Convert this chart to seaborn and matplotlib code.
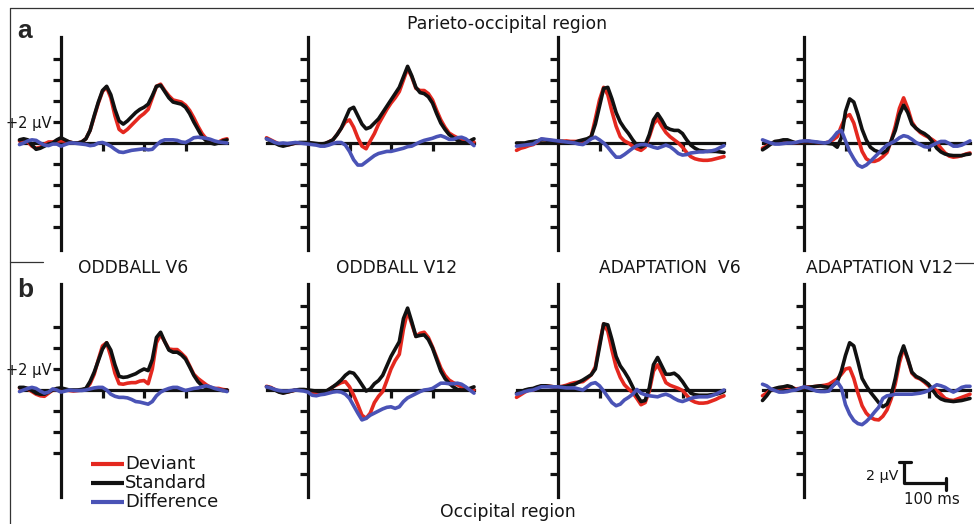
import matplotlib
matplotlib.use("Agg")
import matplotlib.pyplot as plt
from matplotlib.lines import Line2D
import numpy as np
import pandas as pd
import seaborn as sns

# ---------------- data (µV, every 10 ms from -100 to 400 ms) ----------------
TIME = list(range(-100, 401, 10))
CONDITIONS = ["Deviant", "Standard", "Difference"]
TITLES = ["ODDBALL V6", "ODDBALL V12", "ADAPTATION  V6", "ADAPTATION V12"]
ROW_TITLES = ["Parieto-occipital region", "Occipital region"]
ROW_LETTERS = ["a", "b"]

A1_DEV = [0.2, 0.2, 0.1, -0.3, -0.5, -0.4, -0.1, 0.1, 0.1, 0.2,
          0.2, 0.2, 0.1, 0.0, 0.0, 0.1, 0.4, 1.2, 2.5, 3.8,
          4.9, 5.3, 4.3, 2.6, 1.3, 1.0, 1.3, 1.7, 2.1, 2.5,
          2.8, 3.2, 4.3, 5.4, 5.6, 5.0, 4.5, 4.1, 4.0, 3.9,
          3.6, 3.1, 2.4, 1.6, 0.9, 0.4, 0.1, 0.0, 0.1, 0.3,
          0.4]
A1_STD = [0.3, 0.4, 0.3, -0.2, -0.6, -0.5, -0.3, -0.1, 0.0, 0.3,
          0.5, 0.3, 0.1, 0.0, 0.0, 0.1, 0.4, 1.2, 2.6, 3.9,
          5.0, 5.4, 4.6, 3.2, 2.1, 1.8, 2.1, 2.5, 2.9, 3.2,
          3.4, 3.7, 4.5, 5.4, 5.5, 4.9, 4.3, 3.9, 3.8, 3.7,
          3.4, 2.8, 2.0, 1.3, 0.6, 0.2, 0.0, -0.1, 0.0, 0.2,
          0.3]
A1_DIF = [-0.15, 0.0, 0.2, 0.3, 0.25, 0.0, -0.2, -0.25, -0.1, -0.1,
          -0.3, -0.15, 0.0, 0.0, -0.05, -0.1, -0.15, -0.25, -0.2, 0.0,
          0.05, -0.1, -0.3, -0.6, -0.85, -0.9, -0.8, -0.7, -0.65, -0.6,
          -0.55, -0.65, -0.6, -0.2, 0.15, 0.3, 0.3, 0.3, 0.25, 0.1,
          0.05, 0.25, 0.5, 0.55, 0.5, 0.45, 0.35, 0.2, 0.1, 0.05,
          0.0]

A2_DEV = [0.5, 0.3, 0.1, -0.1, -0.2, -0.2, -0.1, 0.0, 0.0, 0.0,
          0.0, -0.05, -0.1, -0.15, -0.1, 0.1, 0.3, 0.8, 1.4, 2.0,
          2.2, 1.5, 0.5, -0.3, -0.55, 0.2, 0.9, 1.8, 2.5, 3.2,
          3.8, 4.3, 4.9, 6.0, 7.1, 6.3, 5.2, 5.0, 5.0, 4.7,
          4.1, 3.1, 2.2, 1.5, 0.95, 0.7, 0.5, 0.3, 0.15, 0.1,
          0.1]
A2_STD = [0.4, 0.2, 0.0, -0.2, -0.3, -0.2, -0.1, 0.0, 0.05, 0.05,
          0.05, 0.0, -0.05, -0.1, -0.05, 0.1, 0.3, 0.8, 1.4, 2.3,
          3.2, 3.4, 2.6, 1.8, 1.35, 1.5, 1.9, 2.3, 2.9, 3.5,
          4.1, 4.7, 5.3, 6.3, 7.3, 6.4, 5.3, 4.8, 4.7, 4.4,
          3.8, 2.8, 1.9, 1.3, 0.8, 0.5, 0.25, 0.05, 0.0, 0.2,
          0.4]
A2_DIF = [0.4, 0.25, 0.05, -0.05, 0.0, -0.05, 0.0, 0.05, 0.0, -0.05,
          -0.1, -0.15, -0.2, -0.3, -0.3, -0.2, -0.05, 0.05, 0.05, -0.2,
          -0.8, -1.6, -2.1, -2.1, -1.8, -1.5, -1.2, -1.0, -0.9, -0.8,
          -0.8, -0.7, -0.6, -0.5, -0.35, -0.3, -0.1, 0.1, 0.25, 0.35,
          0.45, 0.6, 0.7, 0.55, 0.35, 0.35, 0.5, 0.55, 0.4, 0.1,
          -0.25]

A3_DEV = [-0.7, -0.5, -0.4, -0.25, -0.15, 0.1, 0.35, 0.3, 0.25, 0.2,
          0.15, 0.15, 0.2, 0.15, 0.15, 0.15, 0.2, 0.3, 0.6, 2.3,
          4.1, 5.3, 4.6, 3.0, 1.6, 0.6, 0.2, 0.0, -0.3, -0.55,
          -0.7, -0.4, 0.6, 1.8, 2.3, 1.6, 1.0, 0.6, 0.3, 0.0,
          -0.4, -0.9, -1.3, -1.5, -1.6, -1.65, -1.65, -1.6, -1.5, -1.4,
          -1.3]
A3_STD = [0.0, 0.0, 0.0, 0.1, 0.15, 0.2, 0.3, 0.3, 0.2, 0.1,
          0.15, 0.15, 0.1, 0.05, 0.05, 0.2, 0.3, 0.4, 0.6, 1.8,
          3.5, 5.2, 5.3, 4.2, 2.9, 2.0, 1.4, 0.9, 0.3, -0.2,
          -0.4, -0.2, 0.8, 2.2, 2.8, 2.2, 1.5, 1.3, 1.2, 1.2,
          0.9, 0.3, -0.2, -0.5, -0.7, -0.75, -0.8, -0.8, -0.8, -0.85,
          -0.9]
A3_DIF = [-0.3, -0.25, -0.2, -0.15, -0.1, 0.15, 0.4, 0.35, 0.3, 0.25,
          0.2, 0.15, 0.1, 0.05, 0.0, -0.1, -0.15, 0.1, 0.4, 0.55,
          0.3, 0.0, -0.4, -0.9, -1.35, -1.35, -1.1, -0.8, -0.5, -0.25,
          -0.15, -0.15, -0.25, -0.4, -0.5, -0.35, -0.2, -0.35, -0.65, -1.0,
          -1.15, -1.1, -0.95, -0.9, -0.85, -0.85, -0.8, -0.75, -0.65, -0.45,
          -0.25]

A4_DEV = [-0.5, -0.3, -0.05, 0.1, 0.15, 0.2, 0.2, 0.1, 0.0, 0.05,
          0.15, 0.15, 0.1, 0.05, 0.0, 0.0, 0.1, 0.3, 0.6, 1.6,
          2.5, 2.7, 1.9, 0.5, -0.8, -1.5, -1.75, -1.75, -1.6, -1.3,
          -0.9, 0.2, 1.6, 3.3, 4.3, 3.3, 2.0, 1.4, 1.0, 0.75,
          0.55, 0.3, 0.0, -0.5, -0.95, -1.25, -1.35, -1.3, -1.2, -1.05,
          -0.95]
A4_STD = [-0.65, -0.4, -0.1, 0.15, 0.2, 0.3, 0.3, 0.15, 0.0, 0.05,
          0.15, 0.15, 0.1, 0.05, 0.0, 0.0, -0.05, -0.1, -0.4, 0.5,
          3.0, 4.2, 3.9, 2.7, 1.3, 0.3, -0.4, -0.7, -0.85, -0.95,
          -0.7, 0.2, 1.2, 2.7, 3.6, 2.9, 1.8, 1.4, 1.1, 0.9,
          0.6, 0.1, -0.5, -0.85, -1.05, -1.15, -1.2, -1.2, -1.2, -1.1,
          -1.05]
A4_DIF = [0.3, 0.15, 0.0, -0.1, -0.1, -0.05, 0.0, 0.0, 0.05, 0.15,
          0.2, 0.2, 0.15, 0.1, 0.05, 0.0, 0.1, 0.5, 1.0, 1.2,
          0.2, -0.8, -1.5, -2.1, -2.3, -2.1, -1.75, -1.35, -0.95, -0.55,
          -0.2, 0.0, 0.2, 0.5, 0.7, 0.6, 0.35, 0.05, -0.15, -0.35,
          -0.4, -0.2, 0.0, 0.15, 0.15, -0.05, -0.3, -0.3, -0.2, 0.0,
          0.2]

B1_DEV = [0.2, 0.2, 0.1, -0.15, -0.4, -0.55, -0.6, -0.3, 0.0, 0.1,
          0.1, 0.0, -0.05, -0.1, -0.05, 0.0, 0.1, 0.6, 1.5, 2.9,
          4.2, 4.5, 3.2, 1.6, 0.6, 0.55, 0.65, 0.7, 0.7, 0.85,
          0.9, 0.6, 2.0, 4.5, 5.3, 4.6, 3.9, 3.85, 3.85, 3.5,
          3.1, 2.3, 1.5, 1.1, 0.8, 0.5, 0.25, 0.15, 0.15, 0.05,
          0.0]
B1_STD = [0.25, 0.25, 0.15, -0.05, -0.3, -0.4, -0.4, -0.2, 0.0, 0.15,
          0.2, 0.1, 0.0, 0.0, 0.0, 0.05, 0.15, 0.8, 1.7, 2.8,
          3.9, 4.5, 3.8, 2.4, 1.3, 1.2, 1.25, 1.4, 1.55, 1.8,
          2.0, 1.85, 2.9, 5.0, 5.5, 4.6, 3.8, 3.6, 3.6, 3.35,
          2.95, 2.2, 1.4, 0.8, 0.4, 0.2, 0.1, 0.0, 0.0, -0.05,
          0.0]
B1_DIF = [-0.15, 0.0, 0.15, 0.25, 0.15, -0.1, -0.3, -0.2, 0.1, 0.0,
          -0.2, -0.1, 0.0, -0.05, -0.05, -0.05, 0.0, 0.1, 0.2, 0.25,
          0.25, 0.0, -0.4, -0.6, -0.7, -0.7, -0.75, -0.9, -1.1, -1.15,
          -1.25, -1.35, -1.1, -0.55, -0.2, 0.0, 0.15, 0.25, 0.25, 0.1,
          -0.05, 0.05, 0.15, 0.2, 0.3, 0.4, 0.3, 0.15, 0.05, -0.05,
          -0.15]

B2_DEV = [0.35, 0.25, 0.05, -0.15, -0.25, -0.2, -0.1, 0.0, 0.0, 0.0,
          -0.05, -0.2, -0.35, -0.4, -0.3, 0.0, 0.3, 0.5, 0.7, 0.8,
          0.3, -0.5, -1.4, -2.4, -2.7, -2.2, -1.2, -0.6, -0.15, 0.9,
          2.0, 2.8, 3.4, 5.8, 7.5, 6.3, 5.1, 5.4, 5.5, 5.0,
          4.1, 3.1, 2.1, 1.4, 0.95, 0.7, 0.5, 0.3, 0.15, 0.05,
          0.0]
B2_STD = [0.3, 0.2, 0.0, -0.2, -0.3, -0.2, -0.1, 0.0, 0.05, 0.05,
          0.0, -0.05, -0.1, -0.15, -0.2, 0.05, 0.3, 0.6, 0.95, 1.4,
          1.7, 1.6, 1.1, 0.5, -0.1, 0.1, 0.6, 0.9, 1.4, 2.3,
          3.2, 3.9, 4.6, 6.8, 7.8, 6.5, 5.1, 5.2, 5.25, 4.8,
          4.0, 2.9, 1.8, 1.1, 0.65, 0.3, 0.05, 0.0, 0.0, 0.15,
          0.3]
B2_DIF = [0.3, 0.2, 0.05, -0.05, -0.1, -0.1, -0.05, 0.0, -0.05, -0.1,
          -0.2, -0.5, -0.55, -0.45, -0.4, -0.3, -0.2, -0.15, -0.2, -0.4,
          -0.8, -1.5, -2.2, -2.85, -2.7, -2.4, -2.2, -2.0, -1.8, -1.65,
          -1.6, -1.75, -1.6, -1.1, -0.75, -0.55, -0.35, -0.15, 0.0, 0.05,
          0.15, 0.4, 0.65, 0.65, 0.6, 0.6, 0.65, 0.55, 0.3, 0.0,
          -0.3]

B3_DEV = [-0.7, -0.45, -0.2, 0.0, 0.0, 0.2, 0.4, 0.4, 0.35, 0.3,
          0.3, 0.35, 0.45, 0.6, 0.7, 0.75, 0.8, 1.1, 1.45, 2.2,
          4.4, 6.3, 5.6, 3.8, 2.2, 1.2, 0.5, 0.1, -0.25, -0.8,
          -1.4, -1.2, -0.1, 1.8, 2.4, 1.6, 0.7, 0.45, 0.3, 0.15,
          -0.05, -0.5, -0.95, -1.15, -1.25, -1.25, -1.2, -1.05, -0.9, -0.7,
          -0.55]
B3_STD = [-0.3, -0.2, 0.0, 0.1, 0.15, 0.3, 0.4, 0.4, 0.35, 0.3,
          0.3, 0.3, 0.35, 0.45, 0.55, 0.75, 0.95, 1.2, 1.45, 2.0,
          4.1, 6.3, 6.2, 4.8, 3.2, 2.3, 1.75, 1.1, 0.3, -0.5,
          -1.1, -1.0, 0.2, 2.4, 3.1, 2.3, 1.5, 1.5, 1.6, 1.3,
          0.8, 0.2, -0.3, -0.45, -0.5, -0.5, -0.5, -0.45, -0.4, -0.3,
          -0.15]
B3_DIF = [-0.4, -0.3, -0.15, -0.05, 0.0, 0.15, 0.3, 0.3, 0.3, 0.3,
          0.3, 0.25, 0.2, 0.2, 0.2, 0.1, 0.0, 0.3, 0.6, 0.7,
          0.4, -0.1, -0.65, -1.2, -1.5, -1.35, -0.95, -0.7, -0.4, 0.05,
          -0.3, -0.45, -0.55, -0.6, -0.65, -0.5, -0.4, -0.55, -0.8, -1.0,
          -1.1, -0.95, -0.8, -0.7, -0.65, -0.65, -0.65, -0.55, -0.4, -0.2,
          0.0]

B4_DEV = [-0.55, -0.3, 0.0, 0.1, 0.2, 0.25, 0.3, 0.25, 0.1, 0.15,
          0.25, 0.3, 0.3, 0.35, 0.4, 0.45, 0.55, 0.8, 1.05, 1.5,
          2.0, 2.1, 1.1, -0.3, -1.5, -2.2, -2.6, -2.8, -2.85, -2.5,
          -1.9, -0.85, 0.6, 2.6, 4.0, 2.9, 1.6, 1.2, 1.05, 0.75,
          0.4, 0.15, -0.05, -0.4, -0.8, -0.95, -1.0, -0.85, -0.7, -0.55,
          -0.4]
B4_STD = [-1.0, -0.55, 0.0, 0.15, 0.25, 0.3, 0.4, 0.3, 0.0, 0.1,
          0.25, 0.25, 0.3, 0.35, 0.4, 0.3, 0.25, 0.45, 0.75, 1.8,
          3.3, 4.5, 4.2, 2.7, 1.1, 0.4, -0.2, -0.7, -1.2, -1.6,
          -1.35, -0.5, 1.1, 3.1, 4.2, 3.0, 1.7, 1.3, 1.1, 0.85,
          0.55, 0.0, -0.55, -0.85, -1.0, -1.05, -1.1, -1.05, -1.0, -0.9,
          -0.8]
B4_DIF = [0.55, 0.4, 0.1, -0.05, -0.2, -0.2, -0.15, -0.05, 0.0, 0.15,
          0.3, 0.2, 0.05, -0.1, -0.15, -0.15, -0.1, 0.4, 0.8, 0.2,
          -1.4, -2.3, -2.9, -3.2, -3.3, -3.0, -2.6, -2.1, -1.65, -0.8,
          -0.55, -0.5, -0.4, -0.4, -0.4, -0.4, -0.4, -0.35, -0.3, -0.2,
          -0.05, 0.25, 0.5, 0.4, 0.25, 0.0, -0.2, 0.0, 0.25, 0.35,
          0.35]

PANEL_DATA = [
    [(A1_DEV, A1_STD, A1_DIF), (A2_DEV, A2_STD, A2_DIF),
     (A3_DEV, A3_STD, A3_DIF), (A4_DEV, A4_STD, A4_DIF)],
    [(B1_DEV, B1_STD, B1_DIF), (B2_DEV, B2_STD, B2_DIF),
     (B3_DEV, B3_STD, B3_DIF), (B4_DEV, B4_STD, B4_DIF)],
]
X_TICKS = [[[100, 200, 300], [100, 200, 300], [100, 300], [100, 300]],
           [[100, 200, 300], [100, 200, 300], [100, 300], [100, 300]]]
Y_TICKS_FULL = [-8, -6, -4, -2, 2, 4, 6, 8]
Y_TICKS_SHORT = [-6, -4, -2, 2, 4, 6]
Y_TICKS = [[Y_TICKS_FULL] * 4,
           [Y_TICKS_SHORT, Y_TICKS_FULL, Y_TICKS_FULL, Y_TICKS_FULL]]

# ---------------- styling ----------------
sns.set_style("white")
plt.rcParams["font.family"] = ["DejaVu Sans"]

PALETTE = {"Deviant": "#e4281f", "Standard": "#111111", "Difference": "#4a53b6"}
AXC = "#111111"
TXC = "#151515"
LW = 2.6
AXLW = 2.3

W, H = 974, 524
fig = plt.figure(figsize=(W / 100, H / 100), dpi=100)
fig.patch.set_facecolor("white")

COL_PX = [61, 308, 558, 804]   # pixel x of time zero
ROW_PX = [143, 390]            # pixel y of 0 µV
PXMS = 0.415
PXUV = 10.5
XLO, XHI = -107, 407
YLO, YHI = -10.2, 10.1

axes = {}
for r in range(2):
    for c in range(4):
        left = COL_PX[c] + XLO * PXMS
        right = COL_PX[c] + XHI * PXMS
        top = ROW_PX[r] - YHI * PXUV
        bottom = ROW_PX[r] - YLO * PXUV
        ax = fig.add_axes([left / W, 1 - bottom / H, (right - left) / W, (bottom - top) / H])
        ax.patch.set_alpha(0)
        dev, std, dif = PANEL_DATA[r][c]
        assert len(dev) == len(std) == len(dif) == len(TIME)
        df = pd.DataFrame({
            "time": TIME * 3,
            "uV": list(dev) + list(std) + list(dif),
            "cond": ["Deviant"] * len(TIME) + ["Standard"] * len(TIME) + ["Difference"] * len(TIME),
        })
        sns.lineplot(data=df, x="time", y="uV", hue="cond", hue_order=CONDITIONS,
                     palette=PALETTE, estimator=None, legend=False, linewidth=LW, ax=ax)
        for ln in ax.lines:
            ln.set_solid_joinstyle("round")
            ln.set_solid_capstyle("round")
            ln.set_zorder(3)
            ln.set_clip_on(False)
        ax.set_xlim(XLO, XHI)
        ax.set_ylim(YLO, YHI)
        ax.set_xlabel("")
        ax.set_ylabel("")
        for s in ["top", "right"]:
            ax.spines[s].set_visible(False)
        ax.spines["left"].set_position(("data", 0))
        ax.spines["bottom"].set_position(("data", 0))
        ax.spines["bottom"].set_bounds(-100, 400)
        for s in ["left", "bottom"]:
            ax.spines[s].set_linewidth(AXLW)
            ax.spines[s].set_color(AXC)
            ax.spines[s].set_zorder(2)
        ax.set_xticks(X_TICKS[r][c])
        ax.set_xticklabels([])
        yt = Y_TICKS[r][c]
        ax.set_yticks(yt)
        if c == 0:
            ax.set_yticklabels(["+2 µV" if v == 2 else "" for v in yt])
        else:
            ax.set_yticklabels([])
        ax.tick_params(axis="both", which="major", direction="out", length=6, width=AXLW,
                       color=AXC, left=True, bottom=True, labelsize=10.5, pad=0.5,
                       labelcolor=TXC)
        axes[(r, c)] = ax

# ---------------- scale bar (drawn in data units of last panel) ----------------
axs = axes[(1, 3)]
SB_T0, SB_V0 = 242, -8.86
axs.plot([SB_T0, SB_T0], [SB_V0, SB_V0 + 2], color=AXC, lw=AXLW, clip_on=False, solid_capstyle="butt")
axs.plot([SB_T0 - 14, SB_T0 + 16], [SB_V0 + 2, SB_V0 + 2], color=AXC, lw=AXLW, clip_on=False)
axs.plot([SB_T0, SB_T0 + 100], [SB_V0, SB_V0], color=AXC, lw=AXLW, clip_on=False)
axs.plot([SB_T0 + 100, SB_T0 + 100], [SB_V0 + 0.5, SB_V0 - 0.65], color=AXC, lw=AXLW, clip_on=False)
axs.text(SB_T0 - 15, SB_V0 + 0.65, "2 µV", ha="right", va="center", fontsize=10.3, color=TXC)
axs.text(SB_T0 + 66, SB_V0 - 1.55, "100 ms", ha="center", va="center", fontsize=10.8, color=TXC)

# ---------------- texts ----------------
def fx(px):
    return px / W

def fy(py):
    return 1 - py / H

fig.text(fx(507), fy(24), ROW_TITLES[0], ha="center", va="center", fontsize=12.4, color=TXC)
fig.text(fx(508), fy(512), ROW_TITLES[1], ha="center", va="center", fontsize=12.4, color=TXC)
fig.text(fx(17), fy(38), ROW_LETTERS[0], ha="left", va="baseline", fontsize=19, fontweight="bold",
         family=["Liberation Sans", "DejaVu Sans"])
fig.text(fx(17), fy(297), ROW_LETTERS[1], ha="left", va="baseline", fontsize=19, fontweight="bold",
         family=["Liberation Sans", "DejaVu Sans"])
for x, t in zip([133, 397, 670, 880], TITLES):
    fig.text(fx(x), fy(268), t, ha="center", va="center", fontsize=12.3, color=TXC)

# frame lines
FR = "#333333"
fig.add_artist(Line2D([fx(10), fx(974)], [fy(8), fy(8)], color=FR, lw=0.9))
fig.add_artist(Line2D([fx(10), fx(10)], [fy(8), fy(524)], color=FR, lw=0.9))
fig.add_artist(Line2D([fx(10), fx(43)], [fy(262), fy(262)], color=FR, lw=0.9))
fig.add_artist(Line2D([fx(955), fx(974)], [fy(263), fy(263)], color=FR, lw=0.9))

# legend
for yy, cond in zip([464, 483, 502], CONDITIONS):
    fig.add_artist(Line2D([fx(91), fx(124)], [fy(yy), fy(yy)], color=PALETTE[cond], lw=3.0,
                          solid_capstyle="butt"))
    fig.text(fx(125), fy(yy), cond, ha="left", va="center", fontsize=13, color=TXC)

fig.savefig("out.png", dpi=100, facecolor="white")
